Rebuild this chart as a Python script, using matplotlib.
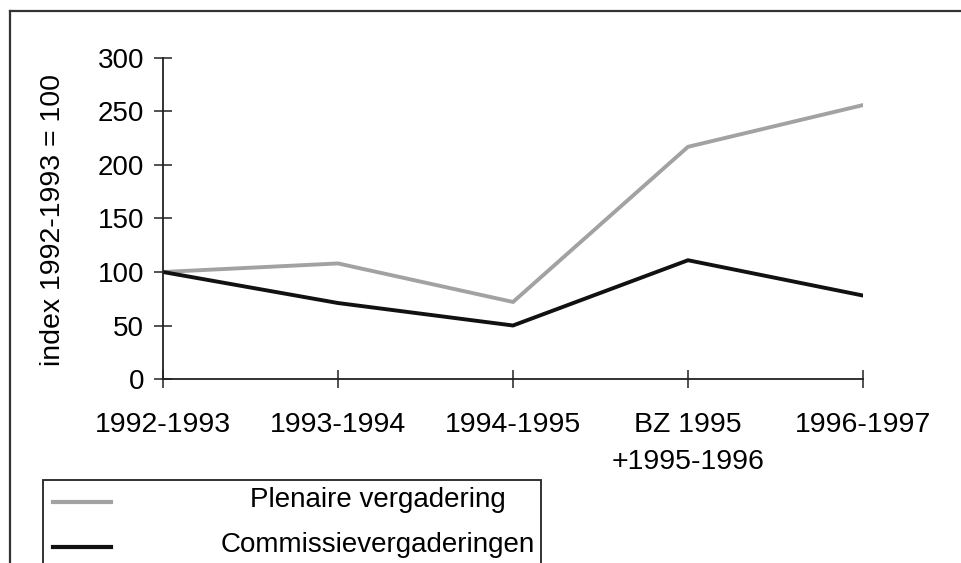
import matplotlib
matplotlib.use("Agg")
import matplotlib.pyplot as plt
from matplotlib.patches import Rectangle
from matplotlib.lines import Line2D

# data (index 1992-1993 = 100)
categories = ["1992-1993", "1993-1994", "1994-1995", "BZ 1995\n+1995-1996", "1996-1997"]
plenaire = [100, 108, 72, 217, 256]
commissie = [100, 71, 50, 111, 78]
series_names = ["Plenaire vergadering", "Commissievergaderingen"]
yticks = [0, 50, 100, 150, 200, 250, 300]

plt.rcParams['font.family'] = ['Liberation Sans', 'DejaVu Sans']

W, H = 961, 563
fig = plt.figure(figsize=(W / 100, H / 100), dpi=100)
ax = fig.add_axes([163 / W, 1 - 379 / H, 700 / W, 321 / H])

x = list(range(len(categories)))
ax.plot(x, plenaire, color="#a2a2a2", lw=2.8, solid_joinstyle="miter")
ax.plot(x, commissie, color="#111111", lw=2.8, solid_joinstyle="miter")

ax.set_xlim(0, len(categories) - 1)
ax.set_ylim(0, 300)
ax.set_xticks(x)
ax.set_xticklabels(categories, fontsize=20.5, linespacing=1.55)
ax.set_yticks(yticks)
ax.set_yticklabels([str(v) for v in yticks], fontsize=20)
ax.tick_params(axis="both", direction="inout", length=13, width=1.1, color="#222222")
ax.tick_params(axis="x", pad=17)
ax.tick_params(axis="y", pad=7)
ax.spines["top"].set_visible(False)
ax.spines["right"].set_visible(False)
for s in ["left", "bottom"]:
    ax.spines[s].set_linewidth(1.3)
    ax.spines[s].set_color("#222222")

fig.text(53 / W, 1 - 220 / H, "index 1992-1993 = 100", rotation=90,
         fontsize=20.5, ha="center", va="center")

# outer frame (top and left edges visible in the scan)
fig.add_artist(Line2D([10 / W, 10 / W], [0, 1 - 11 / H], transform=fig.transFigure,
                      color="#333333", lw=1.6))
fig.add_artist(Line2D([10 / W, 1], [1 - 11 / H, 1 - 11 / H], transform=fig.transFigure,
                      color="#333333", lw=1.6))

# legend box, cut off at the bottom of the picture
fig.add_artist(Rectangle((43 / W, -0.05), (541 - 43) / W, 0.05 + 1 - 480 / H,
                         transform=fig.transFigure, fill=False, ec="#222222", lw=1.3))
leg_y = [502, 547]
leg_col = ["#a2a2a2", "#111111"]
for name, yy, c in zip(series_names, leg_y, leg_col):
    fig.add_artist(Line2D([53 / W, 111 / W], [1 - yy / H, 1 - yy / H],
                          transform=fig.transFigure, color=c, lw=3))
    fig.text(378 / W, 1 - (yy - 2) / H, name, fontsize=20, ha="center", va="center")

fig.savefig("out.png", dpi=100)
